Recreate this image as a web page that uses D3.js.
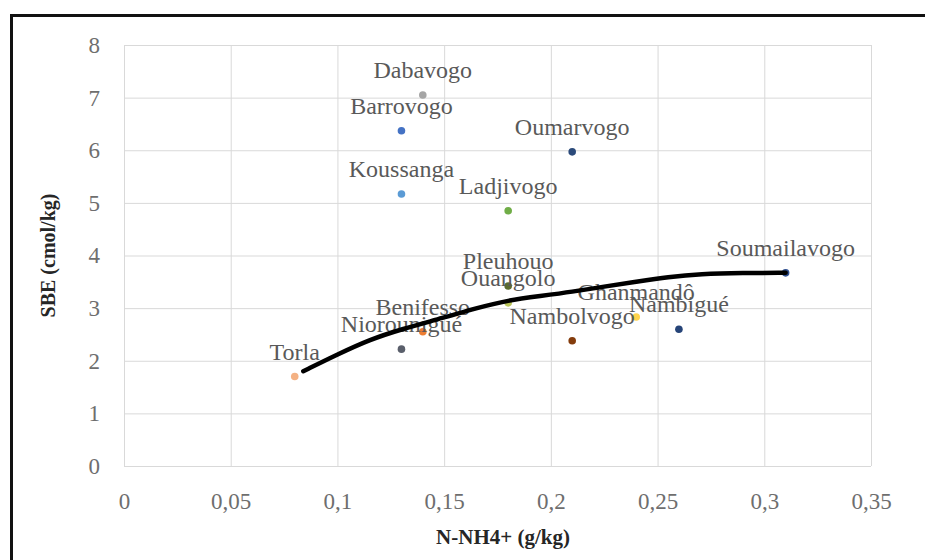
<!DOCTYPE html>
<html>
<head>
<meta charset="utf-8">
<script src="https://cdn.jsdelivr.net/npm/d3@7"></script>
<style>
  html, body { margin: 0; padding: 0; background: #fff; }
  svg { display: block; }
  text { font-family: "Liberation Serif", "Times New Roman", serif; }
</style>
</head>
<body>
<svg id="chart" width="925" height="560"></svg>
<script>
// ---- data ----
const sites = ["Torla", "Niorounigué", "Benifesso", "Pleuhouo", "Ouangolo", "Nambolvogo",
  "Ghanmandô", "Nambigué", "Soumailavogo", "Dabavogo", "Barrovogo", "Oumarvogo",
  "Koussanga", "Ladjivogo"];
const nnh4 = [0.08, 0.13, 0.14, 0.18, 0.18, 0.21, 0.24, 0.26, 0.31, 0.14, 0.13, 0.21, 0.13, 0.18];
const sbe = [1.7, 2.22, 2.55, 3.42, 3.1, 2.38, 2.83, 2.6, 3.67, 7.05, 6.37, 5.97, 5.17, 4.85];
const siteColors = ["#f4b183", "#5a5f6b", "#ed7d31", "#5b6b2e", "#b9c45a", "#843c0c",
  "#ffd34d", "#264478", "#2f4f8f", "#a5a5a5", "#4472c4", "#2b4a7a", "#5b9bd5", "#70ad47"];

// trend line
const trendX = [0.084, 0.10, 0.115, 0.13, 0.15, 0.165, 0.18, 0.195, 0.21, 0.225, 0.24,
  0.255, 0.27, 0.29, 0.31];
const trendY = [1.80, 2.12, 2.40, 2.60, 2.82, 3.00, 3.15, 3.23, 3.31, 3.41, 3.50,
  3.59, 3.65, 3.67, 3.67];

const xTicks = [0, 0.05, 0.1, 0.15, 0.2, 0.25, 0.3, 0.35];
const xTickLabels = ["0", "0,05", "0,1", "0,15", "0,2", "0,25", "0,3", "0,35"];
const yTicks = [0, 1, 2, 3, 4, 5, 6, 7, 8];
const yTickLabels = ["0", "1", "2", "3", "4", "5", "6", "7", "8"];

const xTitle = "N-NH4+ (g/kg)";
const yTitle = "SBE (cmol/kg)";

// ---- layout ----
const svg = d3.select("#chart");
const plot = { left: 124, top: 45, right: 871, bottom: 466 };

const x = d3.scaleLinear().domain([0, 0.35]).range([plot.left, plot.right]);
const y = d3.scaleLinear().domain([0, 8]).range([plot.bottom, plot.top]);
const color = d3.scaleOrdinal().domain(sites).range(siteColors);

// outer frame
svg.append("rect")
  .attr("x", 11.5).attr("y", 15.5)
  .attr("width", 940).attr("height", 600)
  .attr("fill", "none").attr("stroke", "#111").attr("stroke-width", 3);

// grid via axes
const xAxis = d3.axisBottom(x).tickValues(xTicks)
  .tickFormat((d, i) => xTickLabels[i])
  .tickSize(-(plot.bottom - plot.top)).tickPadding(27);
const gx = svg.append("g").attr("transform", `translate(0,${plot.bottom})`).call(xAxis);
gx.select(".domain").remove();
gx.selectAll("line").attr("stroke", "#d9d9d9").attr("stroke-width", 1);
gx.selectAll("text").attr("fill", "#6e6e6e").attr("font-size", 23)
  .attr("font-family", "Liberation Serif, serif");

const yAxis = d3.axisLeft(y).tickValues(yTicks)
  .tickFormat((d, i) => yTickLabels[i])
  .tickSize(-(plot.right - plot.left)).tickPadding(24);
const gy = svg.append("g").attr("transform", `translate(${plot.left},0)`).call(yAxis);
gy.select(".domain").remove();
gy.selectAll("line").attr("stroke", "#d9d9d9").attr("stroke-width", 1);
gy.selectAll("text").attr("fill", "#6e6e6e").attr("font-size", 23)
  .attr("font-family", "Liberation Serif, serif");

// markers
const pts = sites.map((s, i) => ({ name: s, x: nnh4[i], y: sbe[i] }));
svg.append("g").selectAll("circle").data(pts).join("circle")
  .attr("cx", d => x(d.x)).attr("cy", d => y(d.y)).attr("r", 3.8)
  .attr("fill", d => color(d.name));

// data labels
svg.append("g").selectAll("text").data(pts).join("text")
  .attr("x", d => x(d.x)).attr("y", d => y(d.y) - 17)
  .attr("text-anchor", "middle")
  .attr("font-size", 24).attr("fill", "#595959")
  .text(d => d.name);

// trend line
const trend = trendX.map((v, i) => [v, trendY[i]]);
svg.append("path").datum(trend)
  .attr("fill", "none").attr("stroke", "#000").attr("stroke-width", 4.5)
  .attr("stroke-linecap", "round")
  .attr("d", d3.line().x(d => x(d[0])).y(d => y(d[1])).curve(d3.curveBasis));

// axis titles
svg.append("text")
  .attr("x", 503).attr("y", 544)
  .attr("text-anchor", "middle").attr("font-weight", "bold")
  .attr("font-size", 21).attr("fill", "#262626")
  .text(xTitle);

svg.append("text")
  .attr("transform", `translate(55,${(plot.top + plot.bottom) / 2}) rotate(-90)`)
  .attr("text-anchor", "middle").attr("font-weight", "bold")
  .attr("font-size", 20).attr("fill", "#262626")
  .text(yTitle);
</script>
</body>
</html>
